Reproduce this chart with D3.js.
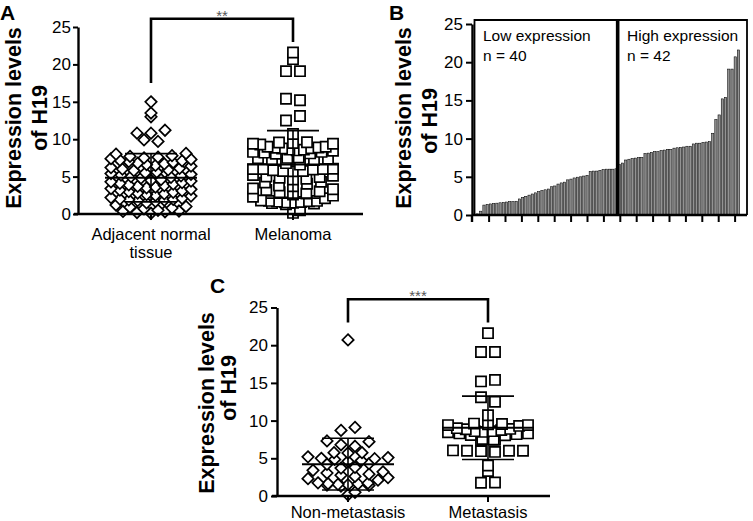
<!DOCTYPE html>
<html><head><meta charset="utf-8">
<script src="https://cdn.jsdelivr.net/npm/d3@7"></script>
<style>
body{margin:0;background:#fff}
svg{display:block}
text{font-family:Arial,"Liberation Sans",Helvetica,sans-serif;fill:#000}
</style>
</head><body>
<svg id="chart" width="753" height="521"></svg>
<script>
// ---------------- data ----------------
const yTicks = [0, 5, 10, 15, 20, 25];

const categoriesA = ["Adjacent normal|tissue", "Melanoma"];
const normalTissue = [0.1,0.2,0.3,0.35,0.4,0.5,0.7,0.8,0.9,
  1.0,1.2,1.5,1.7,1.8,1.85,1.9,1.95,
  2.0,2.1,2.2,2.4,2.5,2.6,2.7,2.8,2.9,
  3.0,3.1,3.2,3.3,3.4,3.5,3.6,3.7,3.8,3.9,
  4.0,4.1,4.2,4.3,4.4,4.5,4.6,4.8,4.9,
  5.0,5.1,5.2,5.3,5.4,5.5,5.6,5.8,5.9,
  6.0,6.1,6.2,6.4,6.5,6.6,6.7,6.8,6.9,
  7.0,7.1,7.2,7.3,7.4,7.5,7.6,7.7,7.8,
  8.0,8.1,9.7,9.9,10.8,10.8,11.2,13.0,13.5,15.0];

// melanoma samples, sorted (panel B bars)
const melanoma = [0.15,0.5,1.3,1.4,1.45,1.5,1.55,1.6,1.65,1.7,1.75,1.75,1.8,
  2.1,2.3,2.45,2.6,2.75,2.9,3.05,3.2,3.3,3.4,3.7,3.8,4.05,4.2,4.3,
  4.6,4.7,4.85,4.95,5.0,5.1,5.2,5.7,5.75,5.75,5.85,5.95,6.0,6.0,6.0,6.05,
  6.6,6.8,7.2,7.3,7.4,7.45,7.5,7.55,8.05,8.1,8.2,8.3,8.3,8.45,8.5,8.6,8.6,8.75,
  8.8,8.85,8.9,9.0,9.0,9.3,9.4,9.4,9.5,9.55,9.6,10.7,12.5,13.1,15.2,15.4,19.1,19.1,20.7,21.6];

const groupLabelsB = ["Low expression", "High expression"];
const groupCountsB = [40, 42];
const splitIndexB = 44;           // bar index where the boxes are divided in the picture
const barTickValues = [5,10,15,20,25,30,35,40,45,50,55,60,65,70,75,80];

const categoriesC = ["Non-metastasis", "Metastasis"];
const nonMetastasis = [0.15,0.5,1.3,1.4,1.45,1.5,1.55,1.6,1.65,1.7,1.75,
  2.1,2.3,2.45,2.6,2.75,2.9,3.05,3.2,3.4,3.7,3.8,
  4.2,4.3,4.6,4.7,4.85,4.95,5.0,5.1,5.2,5.7,5.75,5.75,
  6.6,6.8,7.2,7.3,8.7,9.1,20.7];
const metastasis = [1.75,1.8,3.3,4.05,5.85,5.95,6.0,6.0,6.0,6.05,
  7.4,7.45,7.5,7.55,8.05,8.1,8.2,8.3,8.3,8.45,8.5,8.6,8.6,8.75,8.85,8.9,9.0,
  9.3,9.4,9.4,9.5,9.55,9.6,10.7,12.5,13.1,15.2,15.4,19.1,19.1,21.6];

const sigA = "**", sigC = "***";
const bracketA = {top: 26.1, legs: [17.5, 23.0]};
const bracketC = {top: 26.1, legs: [23.0, 23.0]};

// ---------------- helpers ----------------
const svg = d3.select("#chart");
const FONT = 'Arial,"Liberation Sans",sans-serif';

function swarm(values, binSize, sMax, maxHalf) {
  const sorted = values.slice().sort((a, b) => a - b);
  const bins = d3.group(sorted, v => Math.round(v / binSize));
  const out = []; let flip = 1;
  for (const [, arr] of bins) {
    const n = arr.length;
    const s = n > 1 ? Math.min(sMax, 2 * maxHalf / (n - 1)) : 0;
    const slots = d3.range(n).map(j => (j - (n - 1) / 2) * s);
    slots.sort((a, b) => (Math.abs(a) - Math.abs(b)) || (a - b) * flip);
    arr.forEach((v, i) => out.push({v, dx: slots[i]}));
    flip = -flip;
  }
  return out;
}

function yAxis(g, x, y, size, pad) {
  const a = g.append("g").attr("transform", `translate(${x},0)`)
    .call(d3.axisLeft(y).tickValues(yTicks).tickSize(size).tickPadding(pad).tickSizeOuter(0));
  a.select(".domain").attr("stroke", "#000").attr("stroke-width", 2.4);
  a.selectAll(".tick line").attr("stroke", "#000").attr("stroke-width", 2);
  a.selectAll(".tick text").attr("font-size", 17).attr("font-family", FONT).attr("fill", "#000");
  return a;
}

function yTitle(g, x1, c1, x2, c2) {
  g.append("text").attr("transform", `translate(${x1},${c1}) rotate(-90)`)
    .attr("text-anchor", "middle").attr("font-weight", "bold").attr("font-size", 21.5)
    .text("Expression levels");
  g.append("text").attr("transform", `translate(${x2},${c2}) rotate(-90)`)
    .attr("text-anchor", "middle").attr("font-weight", "bold").attr("font-size", 21.5)
    .text("of H19");
}

function panelLetter(g, x, y, t) {
  g.append("text").attr("x", x).attr("y", y).attr("font-weight", "bold")
    .attr("font-size", 21).text(t);
}

const diamondPath = r => `M0,${-r}L${r},0L0,${r}L${-r},0Z`;
const squarePath = r => `M${-r},${-r}H${r}V${r}H${-r}Z`;

function scatter(g, values, cx, y, shape) {
  const pts = swarm(values, 1.0, 14, 40);
  g.append("g").selectAll("path").data(pts).join("path")
    .attr("transform", d => `translate(${cx + d.dx},${y(d.v)})`)
    .attr("d", shape === "diamond" ? diamondPath(5.7) : squarePath(5.1))
    .attr("fill", "#fff").attr("stroke", "#000").attr("stroke-width", 1.7);
  // mean and SD
  const m = d3.mean(values), sd = d3.deviation(values);
  const L = g.append("g").attr("stroke", "#000");
  L.append("line").attr("x1", cx - 46).attr("x2", cx + 46).attr("y1", y(m)).attr("y2", y(m)).attr("stroke-width", 2);
  L.append("line").attr("x1", cx).attr("x2", cx).attr("y1", y(m - sd)).attr("y2", y(m + sd)).attr("stroke-width", 1.6);
  [m - sd, m + sd].forEach(v => L.append("line").attr("x1", cx - 26).attr("x2", cx + 26)
    .attr("y1", y(v)).attr("y2", y(v)).attr("stroke-width", 1.6));
}

function bracket(g, x, y, cats, b, label, labelY) {
  const x1 = x(cats[0]), x2 = x(cats[1]), yt = y(b.top);
  g.append("path").attr("d", `M${x1},${y(b.legs[0])}V${yt}H${x2}V${y(b.legs[1])}`)
    .attr("fill", "none").attr("stroke", "#000").attr("stroke-width", 2.6);
  g.append("text").attr("x", (x1 + x2) / 2).attr("y", labelY).attr("text-anchor", "middle")
    .attr("font-size", 15).style("fill", "#555").text(label);
}

function catAxis(g, x, yBase, x0, x1, cats, labelY) {
  g.append("line").attr("x1", x0).attr("x2", x1).attr("y1", yBase).attr("y2", yBase)
    .attr("stroke", "#000").attr("stroke-width", 2.4);
  cats.forEach(c => {
    g.append("line").attr("x1", x(c)).attr("x2", x(c)).attr("y1", yBase).attr("y2", yBase + 6)
      .attr("stroke", "#000").attr("stroke-width", 2);
    const t = g.append("text").attr("text-anchor", "middle").attr("font-size", 16.5);
    c.split("|").forEach((line, i) => t.append("tspan").attr("x", x(c)).attr("y", labelY + i * 18).text(line));
  });
}

// ---------------- Panel A ----------------
{
  const g = svg.append("g");
  const y = d3.scaleLinear().domain([0, 25]).range([214, 27]);
  const x = d3.scalePoint().domain(categoriesA).range([80, 364]).padding(0.5);
  panelLetter(g, 0, 20, "A");
  yTitle(g, 21, 118, 47, 118);
  scatter(g, normalTissue, x(categoriesA[0]), y, "diamond");
  scatter(g, melanoma, x(categoriesA[1]), y, "square");
  catAxis(g, x, 214, 74, 363, categoriesA, 240);
  yAxis(g, 78, y, 5, 2);
  bracket(g, x, y, categoriesA, bracketA, sigA, 21);
}

// ---------------- Panel B ----------------
{
  const g = svg.append("g");
  const y = d3.scaleLinear().domain([0, 25]).range([215, 24]);
  const xb = d3.scaleBand().domain(d3.range(melanoma.length)).range([476.4, 739.6]).paddingInner(0.3);
  const xt = d3.scaleLinear().domain([0, 80]).range([472.7, 735.1]);
  panelLetter(g, 389, 20, "B");
  yTitle(g, 411, 118, 437, 121);
  g.append("g").selectAll("rect").data(melanoma).join("rect")
    .attr("x", (d, i) => xb(i)).attr("width", xb.bandwidth())
    .attr("y", d => y(d)).attr("height", d => y(0) - y(d))
    .attr("fill", "#939393").attr("stroke", "#000").attr("stroke-width", 0.55);
  // boxes
  const xDiv = xb(splitIndexB) - xb.step() * xb.paddingInner() / 2;
  const top = 20, bx0 = 474.5, bx1 = 747;
  g.append("path").attr("d", `M${bx0},${y(0)}V${top}H${bx1}V${y(0)}`)
    .attr("fill", "none").attr("stroke", "#000").attr("stroke-width", 1.8);
  g.append("line").attr("x1", xDiv).attr("x2", xDiv).attr("y1", top).attr("y2", y(0))
    .attr("stroke", "#000").attr("stroke-width", 3.6);
  // labels
  const lx = [483, 627];
  groupLabelsB.forEach((lab, i) => {
    g.append("text").attr("x", lx[i]).attr("y", 41).attr("font-size", 15.5).text(lab);
    g.append("text").attr("x", lx[i]).attr("y", 61).attr("font-size", 15.5).text(`n = ${groupCountsB[i]}`);
  });
  // x axis
  g.append("line").attr("x1", 472).attr("x2", 747).attr("y1", y(0)).attr("y2", y(0))
    .attr("stroke", "#000").attr("stroke-width", 2.4);
  g.append("g").selectAll("line").data(barTickValues).join("line")
    .attr("x1", d => xt(d)).attr("x2", d => xt(d)).attr("y1", y(0)).attr("y2", y(0) + 7)
    .attr("stroke", "#000").attr("stroke-width", 2);
  g.append("line").attr("x1", 472).attr("x2", 472).attr("y1", y(0)).attr("y2", y(0) + 7)
    .attr("stroke", "#000").attr("stroke-width", 2.4);
  yAxis(g, 472, y, 6, 3);
}

// ---------------- Panel C ----------------
{
  const g = svg.append("g");
  const y = d3.scaleLinear().domain([0, 25]).range([496, 307.5]);
  const x = d3.scalePoint().domain(categoriesC).range([278, 558]).padding(0.5);
  panelLetter(g, 210, 293, "C");
  yTitle(g, 214, 403, 236, 388);
  scatter(g, nonMetastasis, x(categoriesC[0]), y, "diamond");
  scatter(g, metastasis, x(categoriesC[1]), y, "square");
  catAxis(g, x, 496, 272, 550, categoriesC, 518);
  yAxis(g, 277, y, 6, 3);
  bracket(g, x, y, categoriesC, bracketC, sigC, 301);
}
</script>
</body></html>
